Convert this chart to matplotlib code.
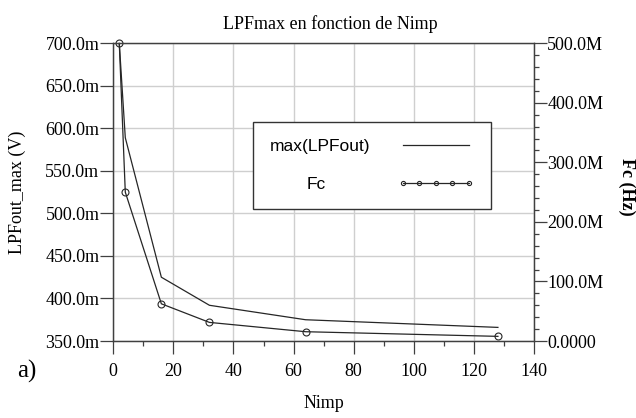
import matplotlib
matplotlib.use("Agg")
import matplotlib.pyplot as plt
from matplotlib.ticker import MultipleLocator, FuncFormatter

nimp = [2, 4, 16, 32, 64, 128]
lpf_max = [0.700, 0.589, 0.425, 0.392, 0.375, 0.366]
fc = [500e6, 250e6, 62.5e6, 31.25e6, 15.6e6, 7.8e6]

serif = "Liberation Serif"
sans = "Liberation Sans"
line_col = "#262626"
axis_col = "#404040"

fig = plt.figure(figsize=(6.36, 4.18), dpi=100)
ax = fig.add_axes([0.1781, 0.1842, 0.6615, 0.7122])
ax2 = ax.twinx()

l1, = ax.plot(nimp, lpf_max, color=line_col, lw=0.9, label="max(LPFout)")
l2, = ax2.plot(nimp, fc, color=line_col, lw=0.9, marker="o", ms=5,
               mfc="none", mec=line_col, mew=0.8, clip_on=False, label="Fc")

ax.set_xlim(0, 140)
ax.set_ylim(0.35, 0.70)
ax2.set_ylim(0, 500e6)

ax.xaxis.set_major_locator(MultipleLocator(20))
ax.xaxis.set_minor_locator(MultipleLocator(10))
ax.yaxis.set_major_locator(MultipleLocator(0.05))
ax2.yaxis.set_major_locator(MultipleLocator(100e6))
ax2.yaxis.set_minor_locator(MultipleLocator(20e6))

ax.yaxis.set_major_formatter(FuncFormatter(lambda v, p: f"{v * 1000:.1f}m"))
ax2.yaxis.set_major_formatter(
    FuncFormatter(lambda v, p: "0.0000" if abs(v) < 1 else f"{v / 1e6:.1f}M"))

ax.grid(True, which="major", color="#cfcfcf", lw=1.0)
ax.set_axisbelow(True)

ax.tick_params(axis="x", which="major", direction="out", length=9, width=0.9,
               color=axis_col, pad=7, labelsize=13)
ax.tick_params(axis="x", which="minor", direction="out", length=3.8, width=0.9,
               color=axis_col)
ax.tick_params(axis="y", which="major", direction="out", length=9.5, width=0.9,
               color=axis_col, pad=0.5, labelsize=13)
ax2.tick_params(axis="y", which="major", direction="out", length=9, width=0.9,
                color=axis_col, pad=0.5, labelsize=13)
ax2.tick_params(axis="y", which="minor", direction="out", length=3.8, width=0.9,
                color=axis_col)

for a in (ax, ax2):
    for s in a.spines.values():
        s.set_color(axis_col)
        s.set_linewidth(0.9)
    for lab in a.get_xticklabels() + a.get_yticklabels():
        lab.set_fontfamily(serif)

fig.text(330 / 636, 1 - 24 / 418, "LPFmax en fonction de Nimp", family=serif,
         fontsize=13, ha="center", va="center")
fig.text(324 / 636, 1 - 403 / 418, "Nimp", family=serif, fontsize=13,
         ha="center", va="center")
fig.text(17 / 636, 1 - 192 / 418, "LPFout_max (V)", family=serif, fontsize=13,
         rotation=90, ha="center", va="center")
fig.text(627 / 636, 1 - 187 / 418, "Fc (Hz)", family=serif, fontsize=13,
         fontweight="bold", rotation=-90, ha="center", va="center")
fig.text(27 / 636, 1 - 371 / 418, "a)", family=serif, fontsize=18,
         ha="center", va="center")

leg = ax2.legend([l1, l2], ["max(LPFout)", "Fc"], loc="upper left",
                 bbox_to_anchor=(0.332, 0.453, 0.566, 0.282), mode="expand",
                 borderaxespad=0, markerfirst=False, numpoints=5,
                 markerscale=0.6, handlelength=4.4, handletextpad=1.6,
                 borderpad=0.95, labelspacing=1.35, fancybox=False,
                 framealpha=1, edgecolor="#333333",
                 prop={"family": sans, "size": 12.5})
leg.get_frame().set_linewidth(1.0)
rows = leg._legend_handle_box.get_children()[0].get_children()
rows[1].sep = 52

fig.savefig("out.png", dpi=100)
